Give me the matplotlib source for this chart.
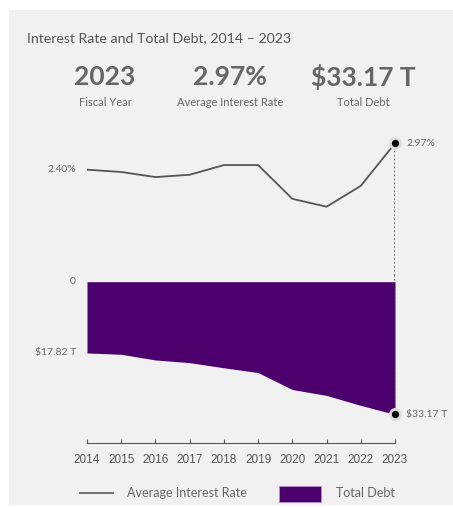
import matplotlib.pyplot as plt
from matplotlib.patches import Rectangle
from matplotlib.lines import Line2D

years = [2014, 2015, 2016, 2017, 2018, 2019, 2020, 2021, 2022, 2023]
avg_rate = [2.40, 2.35, 2.24, 2.29, 2.50, 2.50, 1.77, 1.60, 2.05, 2.97]
total_debt = [17.82, 18.15, 19.57, 20.24, 21.52, 22.72, 26.95, 28.43, 30.93, 33.17]

plt.rcParams['font.family'] = ['Lato', 'DejaVu Sans']

W, H = 453, 507
fig = plt.figure(figsize=(W / 100, H / 100), dpi=100)
fig.patch.set_facecolor('white')

def fx(px):
    return px / W

def fy(py):
    return 1 - py / H

purple = '#4b006e'
bg = '#f1f1f1'

fig.patches.append(Rectangle((fx(9), fy(505)), fx(453) - fx(9), fy(10) - fy(505),
                             transform=fig.transFigure, facecolor=bg, edgecolor='none', zorder=-5))

fig.text(fx(27), fy(38), 'Interest Rate and Total Debt, 2014 \u2013 2023', fontsize=10.2,
         color='#555555', va='center', ha='left')
for cx, big, small in [(105, '2023', 'Fiscal Year'),
                       (230, '2.97%', 'Average Interest Rate'),
                       (363, '$33.17 T', 'Total Debt')]:
    fig.text(fx(cx), fy(77), big, fontsize=19, fontweight='bold', color='#666666',
             ha='center', va='center')
    fig.text(fx(cx), fy(102), small, fontsize=8, color='#666666', ha='center', va='center')

x0, x1 = 87, 395
dot_style = dict(color='#333333', lw=1.1, ls=(0, (1, 1.6)))

# top: interest rate
ax1 = fig.add_axes([fx(x0), fy(275), fx(x1) - fx(x0), fy(130) - fy(275)])
ax1.plot(years, avg_rate, color='#555555', lw=1.3)
ax1.set_xlim(2014, 2023)
ax1.set_ylim(0.125, 3.257)
ax1.axis('off')
ax1.plot([years[-1], years[-1]], [avg_rate[-1], 0.125], **dot_style)
ax1.scatter([years[-1]], [avg_rate[-1]], s=70, color='#dddddd', zorder=3, clip_on=False)
ax1.scatter([years[-1]], [avg_rate[-1]], s=18, color='black', zorder=4, clip_on=False)
ax1.annotate(f'{avg_rate[-1]:.2f}%', (years[-1], avg_rate[-1]), xytext=(8, 0),
             textcoords='offset points', fontsize=7.5, color='#666666', va='center', ha='left',
             annotation_clip=False)
ax1.annotate(f'{avg_rate[0]:.2f}%', (years[0], avg_rate[0]), xytext=(-8, 0),
             textcoords='offset points', fontsize=7.5, color='#666666', va='center', ha='right',
             annotation_clip=False)

# bottom: total debt
ax2 = fig.add_axes([fx(x0), fy(443.3), fx(x1) - fx(x0), fy(275) - fy(443.3)])
ax2.fill_between(years, 0, total_debt, color=purple, lw=0)
ax2.set_xlim(2014, 2023)
ax2.set_ylim(40.4, -1.675)
ax2.set_facecolor('none')
for s in ['top', 'left', 'right']:
    ax2.spines[s].set_visible(False)
ax2.spines['bottom'].set_color('#555555')
ax2.spines['bottom'].set_linewidth(0.8)
ax2.set_yticks([])
ax2.set_xticks(years)
ax2.tick_params(axis='x', direction='in', length=3, color='#555555', pad=8,
                labelsize=8.5, labelcolor='#555555')
for lab in ax2.get_xticklabels():
    lab.set_family('Liberation Sans')
ax2.plot([years[-1], years[-1]], [-1.675, total_debt[-1]], **dot_style)
ax2.scatter([years[-1]], [total_debt[-1]], s=70, color='#dddddd', zorder=3, clip_on=False)
ax2.scatter([years[-1]], [total_debt[-1]], s=18, color='black', zorder=4, clip_on=False)
ax2.annotate(f'${total_debt[-1]:.2f} T', (years[-1], total_debt[-1]), xytext=(8, 0),
             textcoords='offset points', fontsize=7.5, color='#666666', va='center', ha='left',
             annotation_clip=False)
ax2.annotate(f'${total_debt[0]:.2f} T', (years[0], total_debt[0]), xytext=(-8, 0),
             textcoords='offset points', fontsize=7.5, color='#666666', va='center', ha='right',
             annotation_clip=False)
ax2.annotate('0', (years[0], 0), xytext=(-8, 0),
             textcoords='offset points', fontsize=7.5, color='#666666', va='center', ha='right',
             annotation_clip=False)

# legend
fig.lines.append(Line2D([fx(80), fx(113)], [fy(493), fy(493)], transform=fig.transFigure,
                        color='#666666', lw=1.3))
fig.text(fx(127), fy(493), 'Average Interest Rate', fontsize=9, color='#666666', va='center')
fig.patches.append(Rectangle((fx(279), fy(502)), fx(321) - fx(279), fy(486) - fy(502),
                             transform=fig.transFigure, facecolor=purple, edgecolor='#b58fc9',
                             lw=0.6))
fig.text(fx(336), fy(493), 'Total Debt', fontsize=9, color='#666666', va='center')

fig.savefig('out.png', dpi=100, facecolor=fig.get_facecolor())
